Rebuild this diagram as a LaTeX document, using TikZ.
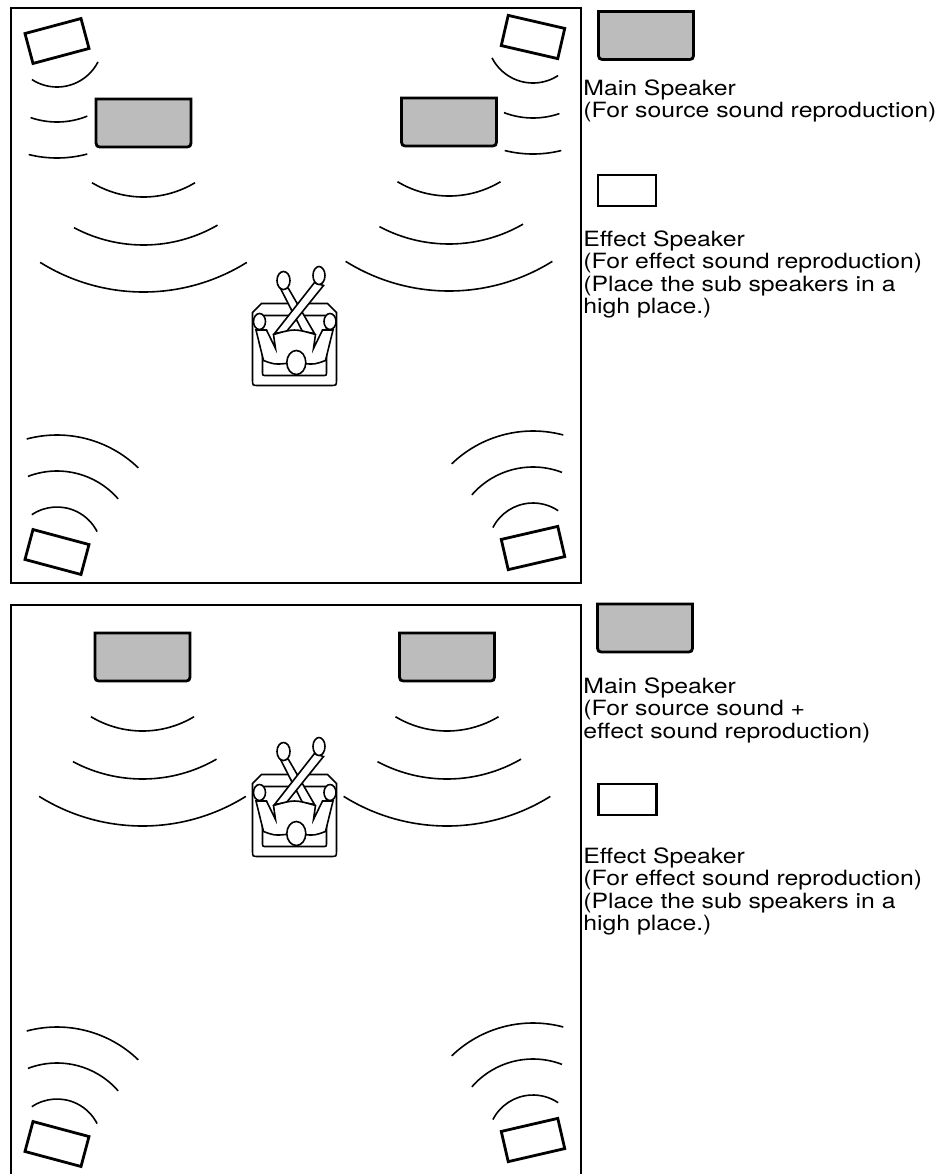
\documentclass[tikz,border=0pt]{standalone}
\usepackage{fontspec}
\setmainfont{TeX Gyre Heros}[FakeStretch=1.18]
\usetikzlibrary{calc}
\definecolor{grille}{RGB}{188,188,188}

% main speaker: flat top, rounded bottom corners
\tikzset{
  mainspk/.pic={
    \draw[spkline,fill=grille] (-47.5,-24) -- (-47.5,16)
      .. controls (-47.5,24) .. (-39.5,24) -- (39.5,24)
      .. controls (47.5,24) .. (47.5,16) -- (47.5,-24) -- cycle;
  }
}

% seated listener seen from above, feet to the front
\newcommand{\listener}[1]{%
  \begin{scope}[shift={(#1)},line width=0.8pt]
    \draw[fill=white] (-33,-41) -- (33,-41) -- (42,-32) -- (42,35)
      .. controls (42,41) .. (36,41) -- (-36,41)
      .. controls (-42,41) .. (-42,35) -- (-42,-32) -- cycle;
    \draw (-32,-29) -- (-32,27) .. controls (-32,31) .. (-28,31)
      -- (28,31) .. controls (32,31) .. (32,27) -- (32,-29) -- cycle;
    \draw[fill=white] (20,-11) -- (-6,-56) -- (-15,-58) -- (8,-13) -- cycle;
    \draw[fill=white] (-20,-11) -- (20,-62) -- (29,-59) -- (-8,-13) -- cycle;
    \draw[fill=white] (-38.5,-14.5) -- (-31,16) .. controls (-20,20) .. (-9,19)
      -- (9,19) .. controls (20,20) .. (31,16) -- (38.5,-14.5) -- (28,-14.5)
      -- (19,4) -- (21,-10) .. controls (0,-16) .. (-21,-10) -- (-19,4)
      -- (-28,-14.5) -- cycle;
    \draw[fill=white] (-35,-23) ellipse[x radius=6,y radius=8];
    \draw[fill=white] (35.5,-23) ellipse[x radius=6,y radius=8];
    \draw[fill=white] (-11,-64) ellipse[x radius=6.5,y radius=9];
    \draw[fill=white] (24.5,-69) ellipse[x radius=6,y radius=9];
    \draw[fill=white] (1.8,18) ellipse[x radius=9.5,y radius=12];
  \end{scope}}

\begin{document}
\begin{tikzpicture}[x=0.5pt,y=-0.5pt,
  frame/.style={line width=0.7pt},
  spkline/.style={line width=1.4pt},
  fxspk/.style={draw,line width=1.4pt,fill=white,minimum width=29pt,minimum height=15.5pt,inner sep=0pt},
  wave/.style={line width=0.8pt},
  key/.style={anchor=north west,align=left,inner sep=0pt,font=\fontsize{10.5pt}{11.25pt}\selectfont}]
  \useasboundingbox (0,0) rectangle (943,1174);

  % upper room: main pair and four effect speakers
  \draw[frame] (11,8) rectangle (581,583);
  \node[fxspk,rotate=15] (fxtl) at (57,41) {};
  \node[fxspk,rotate=-13] (fxtr) at (533,37) {};
  \node[fxspk,rotate=-15] (fxbl) at (57,552) {};
  \node[fxspk,rotate=13] (fxbr) at (533,548) {};
  \coordinate (mainl) at (143.5,123);
  \coordinate (mainr) at (449,122);
  \pic at (mainl) {mainspk};
  \pic at (mainr) {mainspk};
  \coordinate (seat) at (294.5,344.5);
  \listener{seat}

  \foreach \s/\r/\a/\b in {fxtl/46/27/123, fxtl/81/68/109, fxtl/117/75/104,
      fxtr/46/57/153, fxtr/81/71/111, fxtr/117/76/104,
      fxbl/45/-124/-27, fxbl/81/-111/-41, fxbl/117/-105/-46,
      fxbr/45/-153/-56, fxbr/81/-139/-69, fxbr/117/-134/-75}
    \draw[wave] ($(\s)+(\a:\r)$) arc[start angle=\a,end angle=\b,radius=\r];
  \foreach \s in {mainl,mainr}
    \foreach \r/\a/\b in {100/59/121,148/60/118,195/58/122}
      \draw[wave] ($(\s)+(0,-26)+(\a:\r)$) arc[start angle=\a,end angle=\b,radius=\r];

  \pic at (646,35.5) {mainspk};
  \node[key] (mainkey) at (583,79) {Main Speaker\\(For source sound reproduction)};
  \node[fxspk] (fxkey) at (627,190.5) {};
  \node[key] (fxtext) at (583,230)
    {Effect Speaker\\(For effect sound reproduction)\\(Place the sub speakers in a\\high place.)};

  % lower room: main pair carries the effects too, rear pair only
  \draw[frame] (11,1180) -- (11,605) -- (581,605) -- (581,1180);
  \node[fxspk,rotate=-15] (fxbl2) at (57,1144) {};
  \node[fxspk,rotate=13] (fxbr2) at (533,1140) {};
  \coordinate (mainl2) at (142.5,657);
  \coordinate (mainr2) at (447,657);
  \pic at (mainl2) {mainspk};
  \pic at (mainr2) {mainspk};
  \coordinate (seat2) at (294.5,815.5);
  \listener{seat2}

  \foreach \s/\r/\a/\b in {fxbl2/45/-124/-27, fxbl2/81/-111/-41, fxbl2/117/-105/-46,
      fxbr2/45/-153/-56, fxbr2/81/-139/-69, fxbr2/117/-134/-75}
    \draw[wave] ($(\s)+(\a:\r)$) arc[start angle=\a,end angle=\b,radius=\r];
  \foreach \s in {mainl2,mainr2}
    \foreach \r/\a/\b in {100/59/121,148/60/118,195/58/122}
      \draw[wave] ($(\s)+(0,-26)+(\a:\r)$) arc[start angle=\a,end angle=\b,radius=\r];

  \pic at (645,628) {mainspk};
  \node[key] (mainkey2) at (583,677) {Main Speaker\\(For source sound +\\effect sound reproduction)};
  \node[fxspk] (fxkey2) at (627.5,799.5) {};
  \node[key] (fxtext2) at (583,847)
    {Effect Speaker\\(For effect sound reproduction)\\(Place the sub speakers in a\\high place.)};
\end{tikzpicture}
\end{document}
